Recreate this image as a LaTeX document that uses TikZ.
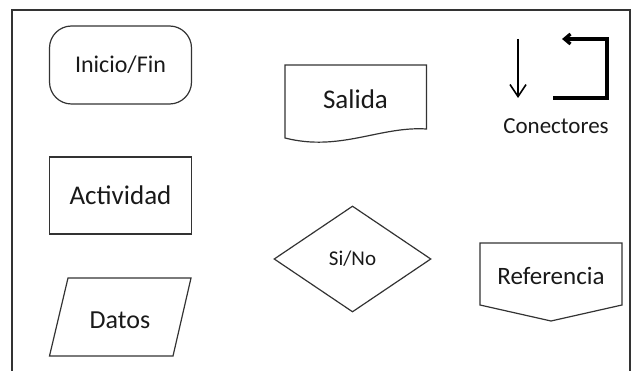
\documentclass[tikz,border=0pt]{standalone}
\usepackage{fontspec}
\setmainfont{Carlito}
\usetikzlibrary{shapes.geometric,arrows.meta}
\tikzset{outline/.style={draw=black!80, line width=1.2pt},
  lbl/.style={text=black!90, inner sep=0pt}}

\begin{document}
\begin{tikzpicture}[x=1pt,y=-1pt]
  \clip (0,0) rectangle (631,371);
  % frame, open at the bottom
  \draw[black!80, line width=1.3pt] (12,380) -- (12,10) -- (630,10) -- (630,380);

  % left column
  \node[outline, lbl, rounded corners=22pt, minimum width=142pt, minimum height=78pt,
        font=\fontsize{24}{28}\selectfont] (inicio) at (120.5,65) {Inicio/Fin};
  \node[outline, lbl, minimum width=142pt, minimum height=77pt,
        font=\fontsize{27}{32}\selectfont] (actividad) at (120.5,195.5) {Actividad};
  \draw[outline] (68,278) -- (191,278) -- (173,356) -- (49.5,356) -- cycle;
  \node[lbl, font=\fontsize{26}{30}\selectfont] (datos) at (120,320) {Datos};

  % middle column
  \draw[outline] (285,65) -- (426.5,65) -- (426.5,129)
    .. controls (380,126) and (340,152) .. (285,138) -- cycle;
  \node[lbl, font=\fontsize{27}{32}\selectfont] (salida) at (355.5,99) {Salida};
  \node[outline, lbl, diamond, minimum width=157pt, minimum height=106pt,
        font=\fontsize{21}{25}\selectfont] (sino) at (352.5,259) {Si/No};

  % right column
  \draw[black, line width=1.6pt, -{Straight Barb[length=12pt,width=16pt]}] (518,39) -- (518,98);
  \draw[black, line width=3.2pt, -{Straight Barb[length=6pt,width=10pt]}]
    (553,98) -- (607,98) -- (607,39) -- (562,39);
  \node[lbl, font=\fontsize{23}{27}\selectfont] (conectores) at (556,126) {Conectores};
  \draw[outline] (480,243) -- (622,243) -- (622,305) -- (551,321) -- (480,305) -- cycle;
  \node[lbl, font=\fontsize{25}{30}\selectfont] (referencia) at (551,276) {Referencia};
\end{tikzpicture}
\end{document}
